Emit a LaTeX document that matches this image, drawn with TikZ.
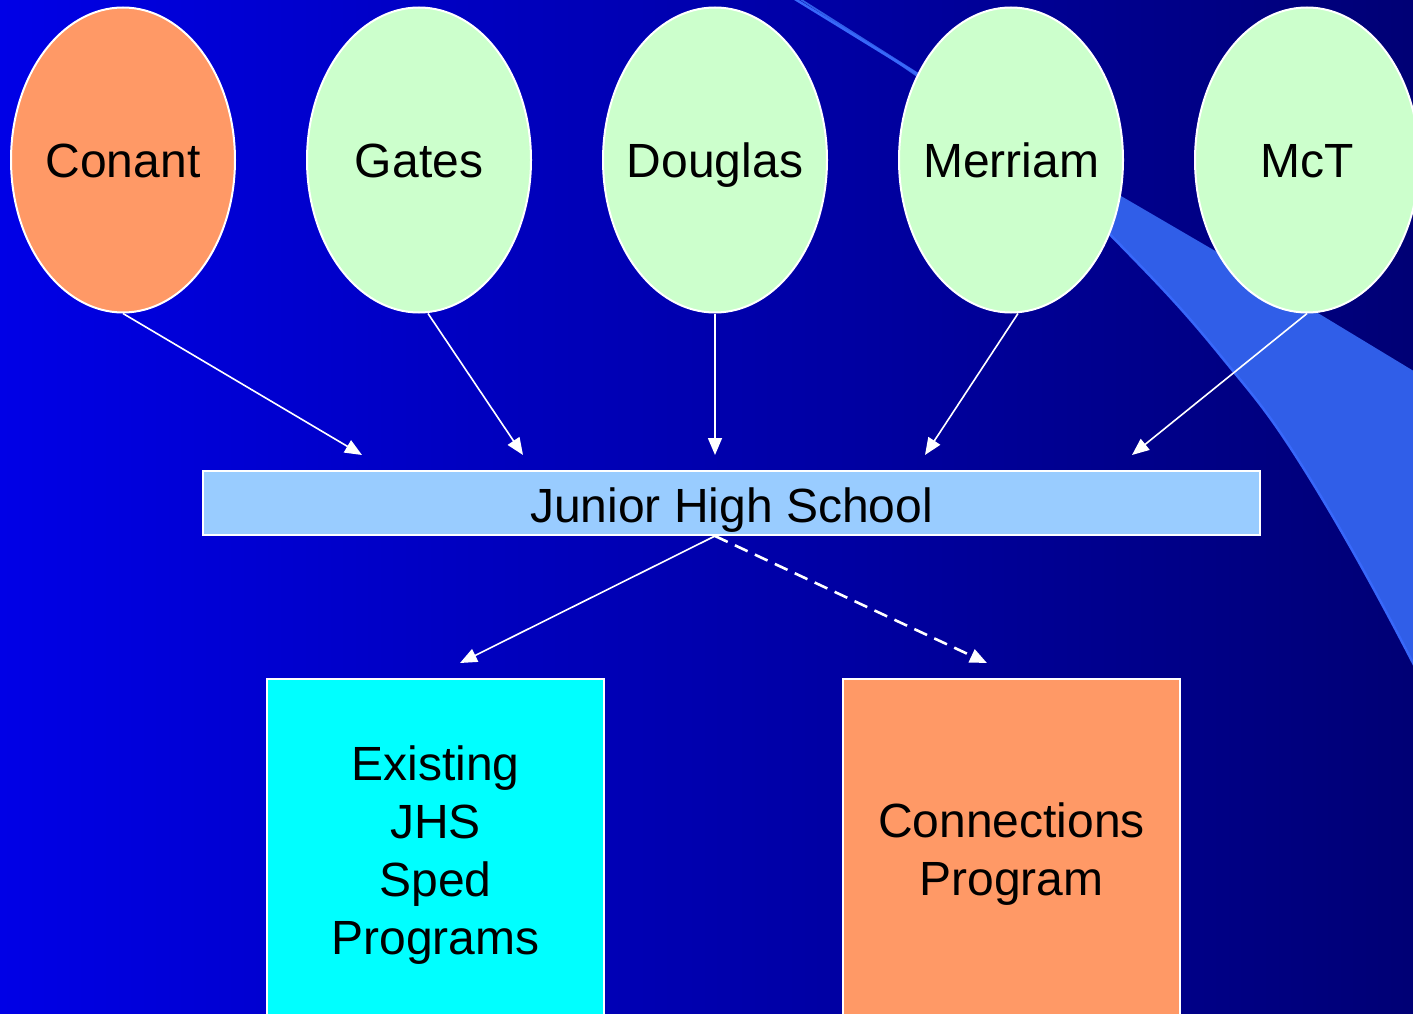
\documentclass[tikz,border=0pt]{standalone}
\usepackage{fontspec}
\setmainfont{Liberation Sans}
\usetikzlibrary{arrows.meta,shapes.geometric,calc}
\definecolor{bgL}{RGB}{0,0,230}
\definecolor{bgR}{RGB}{0,0,60}
\definecolor{bandc}{RGB}{48,94,232}
\definecolor{bandhl}{RGB}{56,104,250}
\definecolor{schoolgreen}{RGB}{204,255,204}
\definecolor{salmon}{RGB}{255,153,102}
\definecolor{jhsblue}{RGB}{153,204,255}
\definecolor{cyanbox}{RGB}{0,255,255}
\pgfdeclarehorizontalshading{bgshade}{100bp}{color(0bp)=(bgL); color(25bp)=(bgL); color(100bp)=(bgR)}
\newcommand{\zw}[1]{\makebox[0pt]{#1}}
\begin{document}
\begin{tikzpicture}[x=1pt,y=-1pt,
  lbl/.style={font=\fontsize{48}{58}\selectfont, text=black, align=center},
  school/.style={ellipse, draw=white, line width=2pt, fill=schoolgreen, minimum width=224pt, minimum height=305pt, inner sep=0pt, lbl, text height=35pt, text depth=0pt},
  boxnode/.style={rectangle, draw=white, line width=2pt, minimum width=337pt, minimum height=345pt, inner sep=0pt},
  conn/.style={draw=white, line width=1.6pt, -{Triangle[length=17pt,width=14pt]}},
  dconn/.style={conn, line width=2.6pt, dash pattern=on 14pt off 8pt}
]
\useasboundingbox (0,0) rectangle (1413,1014);
\clip (0,0) rectangle (1413,1014);
% background
\shade[shading=bgshade] (0,0) rectangle (1413,1014);
% decorative swoosh
\fill[bandc] plot[smooth, tension=0.7] coordinates {(770,-19) (917,77) (1040,170) (1130,255) (1220,355) (1304,469) (1412,661) (1470,790)}
  -- (1470,405) -- (1412,370) -- (1217,252) -- (1121,196) -- (917,72) -- (770,-21) -- cycle;
\draw[bandhl, line width=2.5pt] plot[smooth, tension=0.7] coordinates {(917,77) (1040,170) (1130,255) (1220,355) (1304,469) (1412,661) (1470,790)};
\draw[bandhl, line width=2.5pt] (790,-4) -- (917,74);
% schools
\node[school, fill=salmon] (conant) at (123,160) {\zw{Conant}};
\node[school] (gates) at (419,160) {\zw{Gates}};
\node[school] (douglas) at (715,160) {\zw{Douglas}};
\node[school] (merriam) at (1011,160) {\zw{Merriam}};
\node[school] (mct) at (1307,160) {\zw{McT}};
% junior high
\node[rectangle, draw=white, line width=2pt, fill=jhsblue, minimum width=1057pt, minimum height=64pt, inner sep=0pt] (jhs) at (731.5,503) {};
\node[lbl, inner sep=0pt, text height=35pt, text depth=0pt] (jhstxt) at (731.5,505) {Junior High School};
% programs
\node[boxnode, fill=cyanbox] (existing) at (435.5,851.5) {};
\node[lbl, inner sep=0pt] (existingtxt) at (435.5,855.5) {Existing\\JHS\\Sped\\Programs};
\node[boxnode, fill=salmon] (connections) at (1011.5,851.5) {};
\node[lbl, inner sep=0pt] (connectionstxt) at (1011.5,854.5) {Connections\\Program};
% arrow targets
\coordinate (tc) at (362,455);
\coordinate (tg) at (523,455);
\coordinate (td) at (715,455);
\coordinate (tm) at (925,455);
\coordinate (tt) at (1132,455);
\coordinate (te) at (460,663);
\coordinate (tx) at (987,663);
\coordinate (js) at (715,536);
% connectors
\draw[conn] (conant.south) -- (tc);
\draw[conn] ([xshift=9pt]gates.south) -- (tg);
\draw[conn] (douglas.south) -- (td);
\draw[conn] ([xshift=7pt]merriam.south) -- (tm);
\draw[conn] (mct.south) -- (tt);
\draw[conn] (js) -- (te);
\draw[dconn] (js) -- (tx);
\end{tikzpicture}
\end{document}
